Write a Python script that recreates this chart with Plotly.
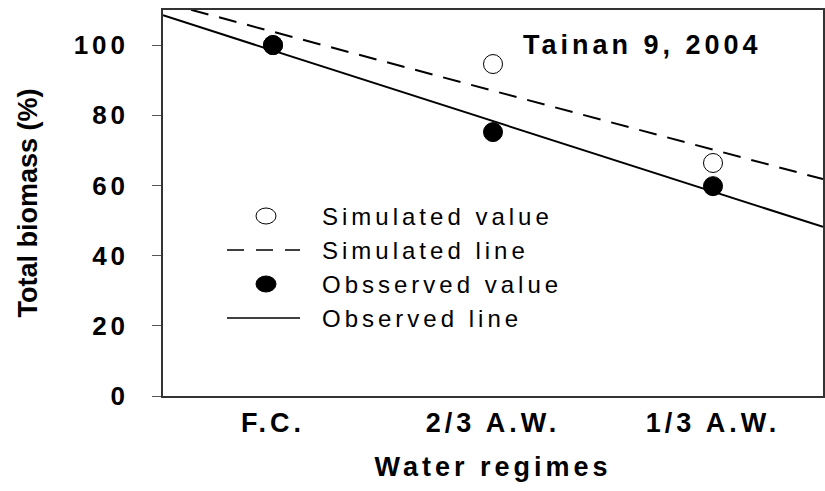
import numpy as np
import plotly.graph_objects as go

# ---- data ----
categories = ["F.C.", "2/3 A.W.", "1/3 A.W."]
x_pos = [1, 2, 3]
simulated = [100, 94.6, 66.4]
observed = [100, 75.2, 59.8]
y_ticks = [0, 20, 40, 60, 80, 100]
x_range = [0.5, 3.5]
y_range = [0, 110]

# regression lines through the points
sim_fit = np.polyfit(x_pos, simulated, 1)
obs_fit = np.polyfit(x_pos, observed, 1)
line_x = np.array(x_range)

FONT = "Liberation Sans, Arial, sans-serif"

fig = go.Figure()
fig.add_trace(go.Scatter(x=line_x, y=np.polyval(sim_fit, line_x), mode="lines",
                         line=dict(color="black", width=2, dash="18px,11px"),
                         name="Simulated line", showlegend=False))
fig.add_trace(go.Scatter(x=line_x, y=np.polyval(obs_fit, line_x), mode="lines",
                         line=dict(color="black", width=2),
                         name="Observed line", showlegend=False))
fig.add_trace(go.Scatter(x=x_pos, y=simulated, mode="markers",
                         marker=dict(size=19, color="white", line=dict(color="black", width=1)),
                         name="Simulated value", showlegend=False, cliponaxis=False))
fig.add_trace(go.Scatter(x=x_pos, y=observed, mode="markers",
                         marker=dict(size=19, color="black", line=dict(color="black", width=1)),
                         name="Obsserved value", showlegend=False, cliponaxis=False))

# plot area in pixels
L, R, T, B = 163, 823, 10, 396
W, H = R - L, B - T
def px(xp):
    return (xp - L) / W
def py(yp):
    return (B - yp) / H

# manual legend
rows = [216, 250, 284, 318]
labels = ["Simulated value", "Simulated line", "Obsserved value", "Observed line"]
shapes = []
shapes.append(dict(type="circle", xref="paper", yref="paper", xsizemode="pixel", ysizemode="pixel",
                   xanchor=px(266), yanchor=py(rows[0]), x0=-10, x1=10, y0=-8, y1=8,
                   line=dict(color="black", width=1), fillcolor="white"))
shapes.append(dict(type="line", xref="paper", yref="paper", x0=px(227), x1=px(300),
                   y0=py(rows[1]), y1=py(rows[1]), line=dict(color="black", width=1.5, dash="17px,12px")))
shapes.append(dict(type="circle", xref="paper", yref="paper", xsizemode="pixel", ysizemode="pixel",
                   xanchor=px(266), yanchor=py(rows[2]), x0=-10, x1=10, y0=-8, y1=8,
                   line=dict(color="black", width=1), fillcolor="black"))
shapes.append(dict(type="line", xref="paper", yref="paper", x0=px(227), x1=px(300),
                   y0=py(rows[3]), y1=py(rows[3]), line=dict(color="black", width=1.5)))

annotations = []
for r, lab in zip(rows, labels):
    annotations.append(dict(text=lab, xref="paper", yref="paper", x=px(320), y=py(r),
                            xanchor="left", yanchor="middle", align="left", showarrow=False,
                            font=dict(family=FONT, size=24, color="black")))
annotations.append(dict(text="<b>Tainan 9, 2004</b>", xref="paper", yref="paper",
                        x=px(521), y=py(45), xanchor="left", yanchor="middle", align="left",
                        showarrow=False,
                        font=dict(family=FONT, size=27, color="black")))

fig.update_layout(
    width=825, height=491,
    margin=dict(l=L, r=825 - R, t=T, b=491 - B, pad=0),
    plot_bgcolor="white", paper_bgcolor="white",
    showlegend=False,
    shapes=shapes, annotations=annotations,
    font=dict(family=FONT, color="black"),
)
fig.update_xaxes(range=x_range, tickvals=x_pos, ticktext=categories, automargin=False,
                 showgrid=False, zeroline=False, showline=True, linecolor="#333", linewidth=1.5,
                 mirror=True, ticks="", ticklabelstandoff=2,
                 tickfont=dict(family=FONT, size=27, color="black", weight="bold"),
                 title=dict(text="<b>Water regimes</b>", standoff=20,
                            font=dict(family=FONT, size=27, color="black")))
fig.update_yaxes(range=y_range, tickvals=y_ticks, automargin=False,
                 showgrid=False, zeroline=False, showline=True, linecolor="#333", linewidth=1.5,
                 mirror=True, ticks="outside", ticklen=9, tickcolor="#555", tickwidth=1,
                 ticklabelstandoff=18,
                 tickfont=dict(family=FONT, size=26, color="black", weight="bold"),
                 title=dict(text="<b>Total biomass (%)</b>", standoff=40,
                            font=dict(family=FONT, size=27, color="black")))

css = ("html, body {margin:0; padding:0;} "
       ".xtick text, .ytick text {letter-spacing:4px;} "
       ".annotation-text {letter-spacing:4px;} "
       ".xtitle {letter-spacing:4px;}")
post = ("var s=document.createElement('style');s.innerHTML=%r;document.head.appendChild(s);" % css)
fig.write_html("out.html", post_script=post, config={"displayModeBar": False})
